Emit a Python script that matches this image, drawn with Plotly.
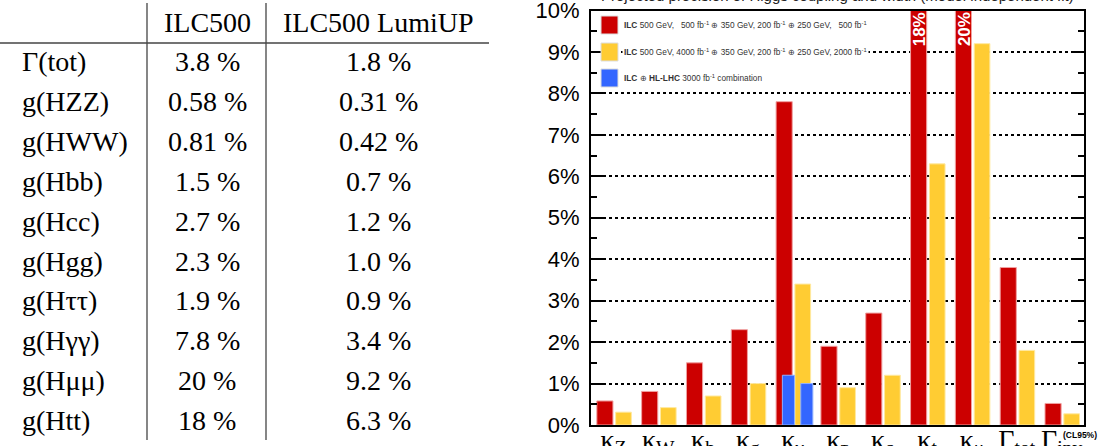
import plotly.graph_objects as go

# ---------------- data ----------------
table_header = ["ILC500", "ILC500 LumiUP"]
table_rows = ["Γ(tot)", "g(HZZ)", "g(HWW)", "g(Hbb)", "g(Hcc)", "g(Hgg)",
              "g(Hττ)", "g(Hγγ)", "g(Hμμ)", "g(Htt)"]
table_ilc500 = ["3.8 %", "0.58 %", "0.81 %", "1.5 %", "2.7 %", "2.3 %",
                "1.9 %", "7.8 %", "20 %", "18 %"]
table_lumiup = ["1.8 %", "0.31 %", "0.42 %", "0.7 %", "1.2 %", "1.0 %",
                "0.9 %", "3.4 %", "9.2 %", "6.3 %"]

categories = ["kZ", "kW", "kb", "kg", "kgam", "ktau", "kc", "kt", "kmu", "Gtot", "Ginv"]
tick_labels = ["κ<sub>Z</sub>", "κ<sub>W</sub>", "κ<sub>b</sub>", "κ<sub>g</sub>",
               "κ<sub>γ</sub>", "κ<sub>τ</sub>", "κ<sub>c</sub>", "κ<sub>t</sub>",
               "κ<sub>μ</sub>", "Γ<sub>tot</sub>", "Γ<sub>inv</sub>"]
y_tick_vals = [0, 1, 2, 3, 4, 5, 6, 7, 8, 9, 10]
y_tick_text = ["0%", "1%", "2%", "3%", "4%", "5%", "6%", "7%", "8%", "9%", "10%"]
ilc500 = [0.58, 0.81, 1.5, 2.3, 7.8, 1.9, 2.7, 18, 20, 3.8, 0.52]
lumiup = [0.31, 0.42, 0.7, 1.0, 3.4, 0.9, 1.2, 6.3, 9.2, 1.8, 0.27]
combo_cat = ["kgam", "kgam"]
combo_vals = [1.2, 1.0]

legend_texts = [
    "<b>ILC</b> 500 GeV,   500 fb<sup>-1</sup> ⊕ 350 GeV, 200 fb<sup>-1</sup> ⊕ 250 GeV,   500 fb<sup>-1</sup>",
    "<b>ILC</b> 500 GeV, 4000 fb<sup>-1</sup> ⊕ 350 GeV, 200 fb<sup>-1</sup> ⊕ 250 GeV, 2000 fb<sup>-1</sup>",
    "<b>ILC</b> ⊕ <b>HL-LHC</b> 3000 fb<sup>-1</sup> combination",
]
title_text = "Projected precision of Higgs coupling and width (model independent fit)"

RED = "#cc0000"
YEL = "#ffcc33"
BLUE = "#3366ff"

W, H = 1101, 446
def px(x):
    return x / W
def py(y):
    return 1 - y / H

fig = go.Figure()

n = len(categories)
fig.add_trace(go.Bar(x=categories, y=ilc500, offset=-0.37, width=0.36,
                     marker=dict(color=RED, line=dict(color="#f0a0a0", width=1)),
                     showlegend=False))
fig.add_trace(go.Bar(x=categories, y=lumiup, offset=0.05, width=0.35,
                     marker=dict(color=YEL, line=dict(color="#ffe9a0", width=1)),
                     showlegend=False))
fig.add_trace(go.Bar(x=combo_cat, y=combo_vals, offset=[-0.23, 0.18], width=[0.27, 0.27],
                     marker=dict(color=BLUE, line=dict(color="#8fb0ff", width=1)),
                     showlegend=False))

x0d, x1d = px(591), px(1084)
y0d, y1d = py(425), py(10.5)

fig.update_layout(
    width=W, height=H,
    margin=dict(l=0, r=0, t=0, b=0, pad=0, autoexpand=False),
    paper_bgcolor="white", plot_bgcolor="white",
    barmode="overlay",
    xaxis=dict(domain=[x0d, x1d], type="category", categoryorder="array",
               categoryarray=categories, tickvals=categories, ticktext=tick_labels,
               range=[-0.5, n - 0.5], showline=True, linecolor="black", linewidth=2,
               mirror=True, ticks="", showgrid=False, automargin=False, tickangle=0,
               tickfont=dict(family="Liberation Serif", size=28, color="black"),
               ticklabelstandoff=-12, ticklabeloverflow="allow"),
    yaxis=dict(domain=[y0d, y1d], range=[0, 10], tickmode="array",
               tickvals=y_tick_vals, ticktext=y_tick_text,
               showline=True, linecolor="black", linewidth=2,
               mirror="ticks", ticks="inside", ticklen=13, tickwidth=2, tickcolor="black",
               showgrid=True, gridcolor="black", gridwidth=1.5, griddash="dot",
               minor=dict(tickmode="array", tickvals=[0.5 + i for i in range(10)],
                          ticks="inside", ticklen=6, tickwidth=2,
                          tickcolor="black", showgrid=False),
               tickfont=dict(family="Liberation Sans", size=22, color="black"),
               ticklabelstandoff=5, zeroline=False, automargin=False,
               ticklabeloverflow="allow"),
    showlegend=False,
)

shapes = []
annotations = []

# legend background and boxes
shapes.append(dict(type="rect", xref="paper", yref="paper", layer="between",
                   x0=px(593), x1=px(873), y0=py(88), y1=py(12),
                   fillcolor="white", line=dict(width=0)))
legend_colors = [RED, YEL, BLUE]
legend_y = [25, 52, 78]
for c, yc, t in zip(legend_colors, legend_y, legend_texts):
    shapes.append(dict(type="rect", xref="paper", yref="paper",
                       x0=px(601), x1=px(618), y0=py(yc + 9), y1=py(yc - 9),
                       fillcolor=c, line=dict(width=1, color="#dddddd")))
    annotations.append(dict(xref="paper", yref="paper", x=px(622), y=py(yc),
                            xanchor="left", yanchor="middle", showarrow=False,
                            bgcolor="white",
                            text=t, font=dict(family="Liberation Sans", size=8.3, color="#333333")))

# clipped-bar labels
for cat, lab in [("kt", "18%"), ("kmu", "20%")]:
    annotations.append(dict(x=cat, y=9.55, xref="x", yref="y", text="<b>" + lab + "</b>",
                            textangle=-90, showarrow=False, xshift=-8,
                            font=dict(family="Liberation Sans", size=17, color="white")))

# Gamma_inv superscript
annotations.append(dict(xref="paper", yref="paper", x=px(1099), y=py(428), xanchor="right",
                        yanchor="top", showarrow=False, text="<b>(CL95%)</b>",
                        font=dict(family="Liberation Sans", size=8.5, color="black")))

# chart title (cut at top)
annotations.append(dict(xref="paper", yref="paper", x=px(837), y=py(6), xanchor="center",
                        yanchor="bottom", showarrow=False, text=title_text,
                        font=dict(family="Liberation Sans", size=15, color="#222222")))

# ---------------- table ----------------
TF = dict(family="Liberation Serif", size=28, color="black")
col_x = [20, 207, 378]
header_y = 22
row_y0, row_dy = 62, 39.8
annotations.append(dict(xref="paper", yref="paper", x=px(col_x[1]), y=py(header_y),
                        xanchor="center", yanchor="middle", showarrow=False,
                        text=table_header[0], font=TF))
annotations.append(dict(xref="paper", yref="paper", x=px(col_x[2]), y=py(header_y),
                        xanchor="center", yanchor="middle", showarrow=False,
                        text=table_header[1], font=TF))
for i, (r, a, b) in enumerate(zip(table_rows, table_ilc500, table_lumiup)):
    yy = py(row_y0 + i * row_dy)
    annotations.append(dict(xref="paper", yref="paper", x=px(col_x[0]), y=yy,
                            xanchor="left", yanchor="middle", showarrow=False, text=r, font=TF))
    annotations.append(dict(xref="paper", yref="paper", x=px(col_x[1]), y=yy,
                            xanchor="center", yanchor="middle", showarrow=False, text=a, font=TF))
    annotations.append(dict(xref="paper", yref="paper", x=px(col_x[2]), y=yy,
                            xanchor="center", yanchor="middle", showarrow=False, text=b, font=TF))

for xv in [147, 266]:
    shapes.append(dict(type="line", xref="paper", yref="paper", x0=px(xv), x1=px(xv),
                       y0=py(3), y1=py(440), line=dict(color="#444444", width=1.3)))
shapes.append(dict(type="line", xref="paper", yref="paper", x0=px(0), x1=px(489),
                   y0=py(43), y1=py(43), line=dict(color="#444444", width=1.3)))

fig.update_layout(shapes=shapes, annotations=annotations)
fig.write_html("out.html", config={"displayModeBar": False},
               post_script="document.body.style.margin='0px';document.body.style.overflow='hidden';")
